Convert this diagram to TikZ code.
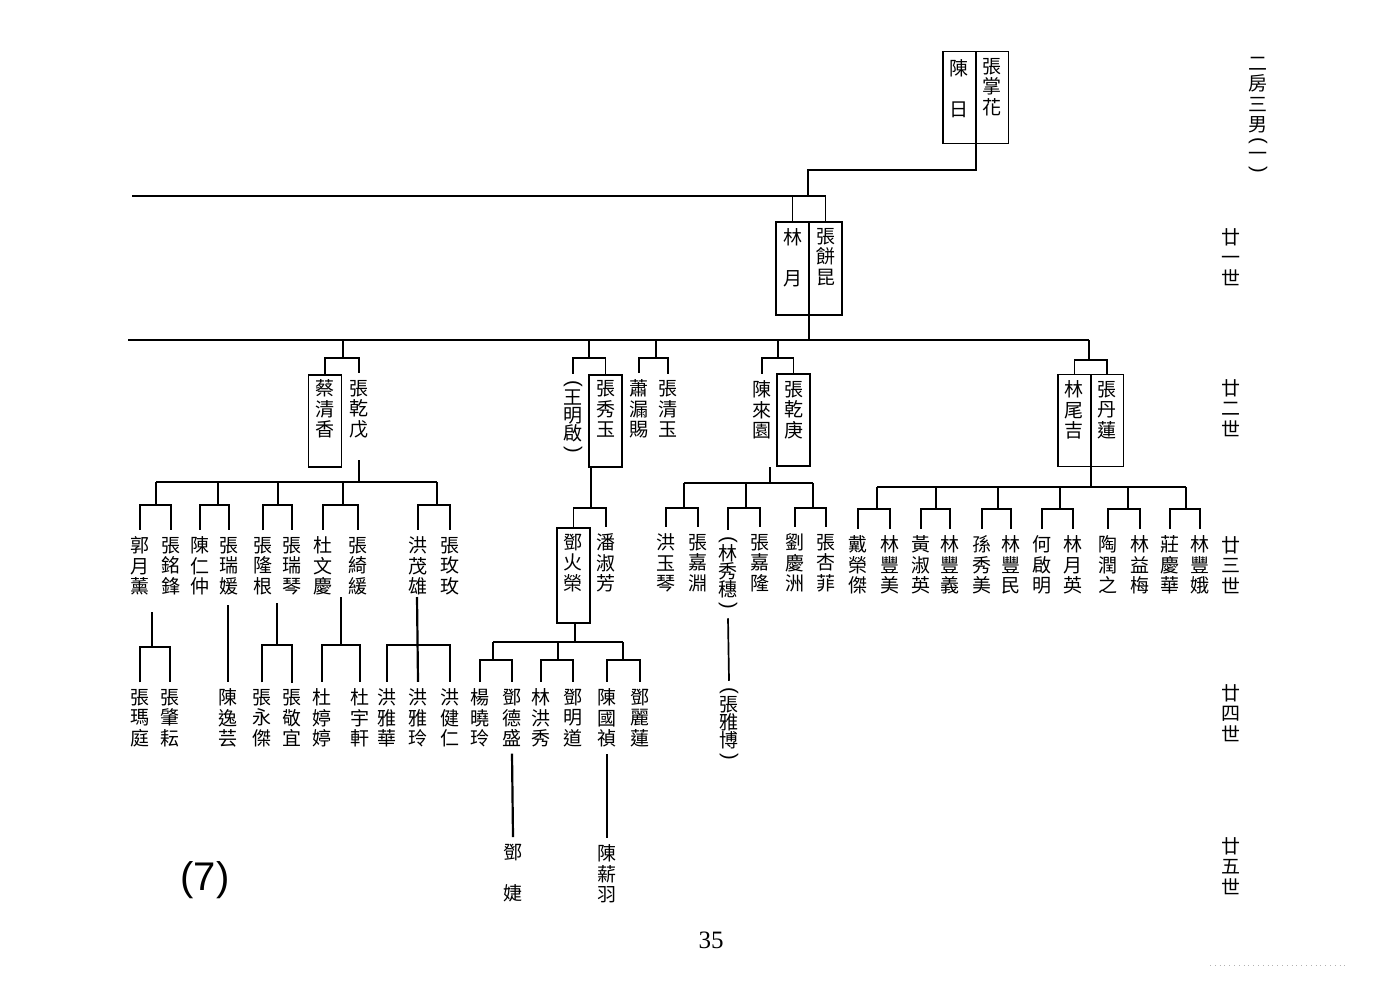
\documentclass[tikz,border=0pt]{standalone}
\usepackage{graphicx}
\usepackage{fontspec}
\setmainfont{Liberation Serif}
\newfontfamily\cjk{Noto Sans CJK TC}
\newfontfamily\lsans{Liberation Sans}
\newcommand\cjkf{\cjk\fontsize{9.5}{10.2}\selectfont}
\newcommand\cjkp{\cjk\fontsize{9.5}{9}\selectfont}
\newcommand\vpo{\rotatebox[origin=c]{-90}{\lsans\fontsize{10}{10}\selectfont(}}
\newcommand\vpc{\rotatebox[origin=c]{-90}{\lsans\fontsize{10}{10}\selectfont)}}
\newcommand\brk[5]{\draw (#1,#2) -- (#1,#3); \draw (#4.north) |- (#1,#3) -| (#5.north);}
\begin{document}
\begin{tikzpicture}[x=0.5pt,y=-0.5pt,line width=0.85pt,
  nm/.style={font=\cjkf,align=center,inner sep=0pt,outer xsep=0pt,outer ysep=3.5pt},
  pnm/.style={nm,font=\cjkp},
  pbox/.style={draw,line width=0.75pt,minimum width=16.5pt,minimum height=46pt,inner sep=0pt,outer sep=0pt},
  thk/.style={line width=1.3pt},
  mid/.style={line width=1.1pt}]
\useasboundingbox (0,0) rectangle (1400,1000);

% ---------- generation 20 ----------
\node[pbox] (bA1) at (959.5,97.5) {};
\node[pbox] (bA2) at (992,97.5) {};
\node[nm] (chenri) at (959,89) {陳\\\mbox{}\\日};
\node[nm] (zzh) at (992,87) {張\\掌\\花};
\coordinate (t1) at (976,170);
\coordinate (t2) at (808,196);
\draw (bA1.south east) -- (t1) -| (t2);
\draw (132,196) -- (826,196);

% ---------- generation 21 ----------
\node[pbox,minimum height=46.5pt] (bB1) at (792.5,268.5) {};
\node[pbox,minimum height=46.5pt] (bB2) at (825.5,268.5) {};
\draw (bB1.north) -- (bB1.north |- t2);
\draw (bB2.north) -- (bB2.north |- t2);
\node[nm] (linyue) at (793,258) {林\\\mbox{}\\月};
\node[nm] (zbk) at (826,257) {張\\餅\\昆};
\coordinate (g22) at (809,341);
\draw[thk] (bB1.north east) -- (g22);
\draw (128,340) -- (1089,340);

% ---------- family 1 : 張乾戊 ----------
\node[pbox] (bC) at (325,421) {};
\node[nm] (cqx) at (325,409) {蔡\\清\\香};
\node[nm] (zqw) at (359,409) {張\\乾\\戊};
\brk{343}{340}{358}{bC}{zqw}
\draw (359,460) -- (359,482);
\draw (156,482) -- (437,482);
\node[nm] (guo) at (140,566) {郭\\月\\薰};
\node[nm] (zmf) at (171,566) {張\\銘\\鋒};
\node[nm] (crz) at (200,566) {陳\\仁\\仲};
\node[nm] (zry) at (229,566) {張\\瑞\\媛};
\node[nm] (zlg) at (263,566) {張\\隆\\根};
\node[nm] (zrq) at (292,566) {張\\瑞\\琴};
\node[nm] (dwq) at (323,566) {杜\\文\\慶};
\node[nm] (zqh) at (358,566) {張\\綺\\緩};
\node[nm] (hmx) at (418,566) {洪\\茂\\雄};
\node[nm] (zmm) at (450,566) {張\\玫\\玫};
\brk{156}{482}{505}{guo}{zmf}
\brk{218}{482}{505}{crz}{zry}
\brk{278}{482}{505}{zlg}{zrq}
\brk{343}{482}{505}{dwq}{zqh}
\brk{437}{482}{505}{hmx}{zmm}
\node[nm] (zmt) at (140,718) {張\\瑪\\庭};
\node[nm] (zzy) at (170,718) {張\\肇\\耘};
\node[nm] (cyy) at (228,718) {陳\\逸\\芸};
\node[nm] (zyj) at (262,718) {張\\永\\傑};
\node[nm] (zjy) at (292,718) {張\\敬\\宜};
\node[nm] (dtt) at (322,718) {杜\\婷\\婷};
\node[nm] (dyx) at (360,718) {杜\\宇\\軒};
\node[nm] (hyh) at (387,718) {洪\\雅\\華};
\node[nm] (hyl) at (418,718) {洪\\雅\\玲};
\node[nm] (hjr) at (450,718) {洪\\健\\仁};
\begin{scope}[mid]
\brk{152}{612}{647}{zmt}{zzy}
\draw (228,605) -- (cyy.north);
\brk{277}{603}{645}{zyj}{zjy}
\brk{341}{597}{645}{dtt}{dyx}
\draw (417,597) -- (hyl.north);
\draw (hyh.north) |- (417,645) -| (hjr.north);
\end{scope}

% ---------- family 2 : 張秀玉 ----------
\node[pnm] (wmq) at (573,418) {\vpo\\[-1.5pt]王\\明\\啟\\[-1.5pt]\vpc};
\node[pbox] (bD) at (605.5,421) {};
\node[nm] (zxy) at (606,409) {張\\秀\\玉};
\node[nm] (xlc) at (639,409) {蕭\\漏\\賜};
\node[nm] (zqy) at (668,409) {張\\清\\玉};
\brk{589}{340}{358}{wmq}{bD}
\brk{656}{340}{358}{xlc}{zqy}
\node[pbox,minimum height=47.5pt] (bE) at (573.5,575.5) {};
\node[nm] (dhr) at (573,563) {鄧\\火\\榮};
\node[nm] (pnf) at (606,563) {潘\\淑\\芳};
\brk{591}{467}{508}{bE}{pnf}
\draw (bE.south -| 575,0) -- (575,642);
\draw (493,642) -- (623,642);
\node[nm] (yxl) at (480,718) {楊\\曉\\玲};
\node[nm] (dds) at (512,718) {鄧\\德\\盛};
\node[nm] (lhx) at (541,718) {林\\洪\\秀};
\node[nm] (dmd) at (573,718) {鄧\\明\\道};
\node[nm] (cgz) at (607,718) {陳\\國\\禎};
\node[nm] (dll) at (640,718) {鄧\\麗\\蓮};
\brk{493}{642}{660}{yxl}{dds}
\brk{558}{642}{660}{lhx}{dmd}
\brk{623}{642}{660}{cgz}{dll}
\node[nm] (dj) at (513,873) {鄧\\\mbox{}\\婕};
\node[nm] (cxy) at (607,874) {陳\\薪\\羽};
\draw[mid] (dds.south) -- (dj.north);
\draw[mid] (cgz.south) -- (cxy.north);

% ---------- family 3 : 張乾庚 ----------
\node[nm] (cly) at (762,410) {陳\\來\\園};
\node[pbox] (bF) at (793.5,420) {};
\node[nm] (zqg) at (794,410) {張\\乾\\庚};
\brk{778}{340}{358}{cly}{bF}
\draw (770,467) -- (770,483);
\draw (684,483) -- (813,483);
\node[nm] (hyq) at (666,563) {洪\\玉\\琴};
\node[nm] (zjy2) at (698,563) {張\\嘉\\淵};
\node[pnm] (lxs) at (728,574) {\vpo\\[-1.5pt]林\\秀\\穗\\[-1.5pt]\vpc};
\node[nm] (zjl) at (760,563) {張\\嘉\\隆};
\node[nm] (lqz) at (795,563) {劉\\慶\\洲};
\node[nm] (zxf) at (826,563) {張\\杏\\菲};
\brk{684}{483}{508}{hyq}{zjy2}
\brk{746}{483}{508}{lxs}{zjl}
\brk{813}{483}{508}{lqz}{zxf}
\node[pnm] (zyb) at (729,725) {\vpo\\[-1.5pt]張\\雅\\博\\[-1.5pt]\vpc};
\draw (lxs.south) -- (zyb.north);

% ---------- family 4 : 張丹蓮 ----------
\node[pbox] (bG1) at (1074.5,420.5) {};
\node[pbox] (bG2) at (1107,420.5) {};
\node[nm] (lwj) at (1074,410) {林\\尾\\吉};
\node[nm] (zdl) at (1107,410) {張\\丹\\蓮};
\draw (1089,340) -- (1089,360);
\draw (bG1.north) |- (1089,360) -| (bG2.north);
\draw (bG1.south east) -- (1091,487);
\draw (877,487) -- (1186,487);
\node[nm] (drj) at (858,565) {戴\\榮\\傑};
\node[nm] (lfm) at (890,565) {林\\豐\\美};
\node[nm] (hsy) at (921,565) {黃\\淑\\英};
\node[nm] (lfy) at (950,565) {林\\豐\\義};
\node[nm] (ssm) at (982,565) {孫\\秀\\美};
\node[nm] (lfmin) at (1011,565) {林\\豐\\民};
\node[nm] (hqm) at (1042,565) {何\\啟\\明};
\node[nm] (lyy) at (1073,565) {林\\月\\英};
\node[nm] (trz) at (1108,565) {陶\\潤\\之};
\node[nm] (lym) at (1140,565) {林\\益\\梅};
\node[nm] (zqh2) at (1170,565) {莊\\慶\\華};
\node[nm] (lfe) at (1200,565) {林\\豐\\娥};
\brk{877}{487}{509}{drj}{lfm}
\brk{936}{487}{509}{hsy}{lfy}
\brk{998}{487}{509}{ssm}{lfmin}
\brk{1060}{487}{509}{hqm}{lyy}
\brk{1128}{487}{509}{trz}{lym}
\brk{1186}{487}{509}{zqh2}{lfe}

% ---------- generation labels ----------
\node[nm] (ttl) at (1258,116) {二\\房\\三\\男\\[-3pt]\vpo\\[-3pt]一\\[-3pt]\vpc};
\node[nm] (g21) at (1231,257) {廿\\一\\世};
\node[nm] (g22l) at (1231,408) {廿\\二\\世};
\node[nm] (g23) at (1231,565) {廿\\三\\世};
\node[nm] (g24) at (1231,713) {廿\\四\\世};
\node[nm] (g25) at (1231,866) {廿\\五\\世};

% ---------- page marks ----------
\node[font=\lsans\fontsize{20}{22}\selectfont,inner sep=0pt] (seven) at (205,880) {(7)};
\node[font=\fontsize{12.5}{14}\selectfont,inner sep=0pt] (pg) at (711,940) {35};
\draw[gray!60,line width=0.4pt,dotted] (1210,965) -- (1345,965);
\end{tikzpicture}
\end{document}
